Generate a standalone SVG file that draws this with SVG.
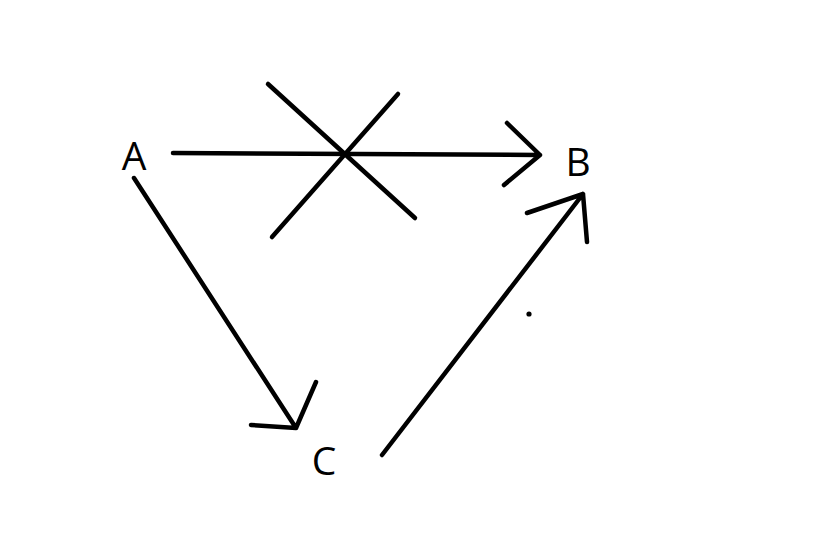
<svg xmlns="http://www.w3.org/2000/svg" width="831" height="559" viewBox="0 0 831 559">
<style>
.lbl{font-family:"Open Sans","Noto Sans","Liberation Sans",sans-serif;font-size:39px;fill:#000;text-anchor:middle}
.ln{fill:none;stroke:#000;stroke-width:4.5;stroke-linecap:round;stroke-linejoin:round}
</style>
<rect width="831" height="559" fill="#fff"/>
<g id="node-A"><text class="lbl" x="134" y="170">A</text></g>
<g id="node-B"><text class="lbl" x="578" y="176">B</text></g>
<g id="node-C"><text class="lbl" x="324" y="475">C</text></g>
<g id="connectors">
<path class="ln" d="M173,153 L540,155 M507,123 L540,155 L504,185"/>
<path class="ln" d="M134,178 L296,428 M251,425 L296,428 L316,382"/>
<path class="ln" d="M382,455 L583,194 M527,213 L583,194 L587,242"/>
</g>
<g id="cross">
<path class="ln" d="M268,84 L415,218 M398,94 L272,237"/>
</g>
<circle cx="529" cy="314" r="2.6" fill="#000"/>
</svg>
